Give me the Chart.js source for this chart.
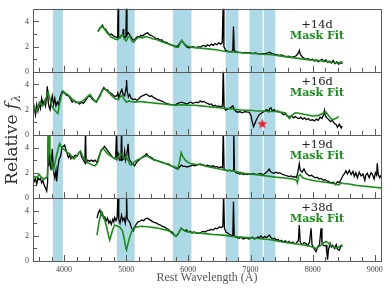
<!DOCTYPE html>
<html>
<head>
<meta charset="utf-8">
<script src="https://cdn.jsdelivr.net/npm/chart.js@4.4.1/dist/chart.umd.min.js"></script>
<style>
body { margin: 0; background: #fff; }
#wrap { position: relative; width: 391px; height: 292px; }
</style>
</head>
<body>
<div id="wrap"><canvas id="spectra" width="391" height="292"></canvas></div>
<script>
var waveMin = 3500;
var waveMax = 9100;
var fluxMax = 5;

// axis labels
var waveLabels = [4000, 5000, 6000, 7000, 8000, 9000];
var fluxLabels = [0, 2, 4];

// masked regions (Angstrom)
var bandStarts = [3820, 4850, 5750, 6600, 6985, 7215];
var bandEnds   = [3980, 5135, 6050, 6805, 7195, 7400];

var epochs = ['+14d', '+16d', '+19d', '+38d'];
var fitLabel = 'Mask Fit';

// [wavelength, relative flux]
var obs14 = [[4550,3.2],[4575,3.45],[4600,3.55],[4620,3.7],[4640,3.45],[4665,3.4],[4690,3.2],[4715,3.05],[4740,2.95],[4765,3.0],[4790,2.85],[4815,2.8],[4840,2.75],[4862,2.7],[4870,5.5],[4878,2.75],[4900,2.7],[4925,2.9],[4945,3.0],[4952,3.4],[4960,2.9],[4980,2.7],[4995,2.8],[5004,5.5],[5012,2.9],[5035,3.1],[5060,2.9],[5085,2.7],[5110,2.55],[5135,2.5],[5160,2.7],[5185,2.8],[5210,2.75],[5235,2.9],[5260,2.85],[5290,2.95],[5320,3.05],[5345,3.1],[5370,2.95],[5400,2.9],[5430,2.8],[5455,2.75],[5480,2.6],[5510,2.65],[5540,2.5],[5570,2.55],[5600,2.4],[5630,2.35],[5660,2.3],[5690,2.2],[5720,2.15],[5750,2.1],[5780,2.05],[5810,2.0],[5840,2.1],[5870,2.35],[5890,2.45],[5920,2.3],[5950,2.1],[5980,1.95],[6010,1.9],[6040,1.95],[6070,2.0],[6100,1.95],[6130,1.9],[6160,2.0],[6190,1.95],[6220,2.05],[6250,2.1],[6280,2.0],[6310,2.15],[6340,2.05],[6370,2.2],[6400,2.1],[6430,2.25],[6460,2.15],[6490,2.3],[6520,2.2],[6545,2.3],[6560,5.5],[6572,2.0],[6600,1.7],[6630,1.65],[6660,1.6],[6690,1.6],[6715,1.7],[6726,3.6],[6738,1.7],[6760,1.6],[6800,1.55],[6840,1.55],[6880,1.5],[6920,1.55],[6960,1.5],[7000,1.5],[7040,1.45],[7080,1.5],[7120,1.45],[7160,1.4],[7200,1.45],[7240,1.45],[7280,1.5],[7310,1.55],[7340,1.45],[7380,1.4],[7420,1.35],[7460,1.3],[7500,1.35],[7540,1.25],[7580,1.2],[7620,1.25],[7660,1.15],[7700,1.2],[7740,1.3],[7770,1.5],[7786,1.7],[7800,1.4],[7830,1.2],[7860,1.1],[7900,1.0],[7930,1.05],[7960,0.95],[8000,1.0],[8030,0.85],[8060,0.95],[8090,0.8],[8120,0.9],[8150,1.0],[8180,0.8],[8210,0.95],[8240,0.75],[8270,0.85],[8300,0.7],[8330,0.9],[8360,0.65],[8390,0.8],[8420,0.6],[8450,0.75],[8480,0.65]];
var fit14 = [[4540,3.2],[4580,3.5],[4610,3.65],[4640,3.45],[4700,3.05],[4760,2.75],[4820,2.6],[4860,2.55],[4900,2.75],[4940,2.95],[4970,2.6],[5000,2.45],[5030,2.75],[5060,2.8],[5090,2.45],[5120,2.35],[5150,2.55],[5200,2.75],[5260,2.7],[5320,2.8],[5380,2.7],[5440,2.6],[5500,2.55],[5560,2.4],[5620,2.3],[5680,2.2],[5740,2.1],[5800,1.95],[5840,1.95],[5870,2.3],[5895,2.5],[5930,2.25],[5980,2.05],[6050,1.95],[6150,1.9],[6250,1.85],[6350,1.8],[6450,1.75],[6550,1.65],[6650,1.6],[6750,1.55],[6900,1.5],[7050,1.45],[7200,1.4],[7350,1.35],[7500,1.25],[7650,1.15],[7800,1.05],[7950,0.95],[8100,0.9],[8250,0.8],[8400,0.7],[8450,0.75],[8480,0.82]];

var obs16 = [[3500,1.7],[3520,2.2],[3540,1.6],[3560,2.4],[3580,1.9],[3600,2.5],[3620,2.1],[3640,2.9],[3660,2.4],[3680,2.7],[3700,2.3],[3720,3.0],[3730,3.85],[3745,2.6],[3760,2.2],[3775,2.0],[3790,2.6],[3810,3.1],[3830,2.4],[3850,2.9],[3870,2.3],[3890,2.6],[3910,2.4],[3930,2.9],[3950,3.2],[3970,3.45],[3990,3.35],[4010,3.3],[4040,3.15],[4070,3.1],[4100,2.9],[4130,2.6],[4160,2.75],[4190,2.55],[4220,2.6],[4250,2.45],[4280,2.6],[4310,2.5],[4340,2.7],[4370,2.9],[4400,3.1],[4430,3.0],[4460,2.8],[4490,2.7],[4520,2.6],[4550,2.9],[4580,3.2],[4610,3.5],[4640,3.75],[4670,3.6],[4700,3.55],[4730,3.35],[4760,3.3],[4790,3.15],[4820,3.05],[4850,3.1],[4865,3.3],[4880,2.9],[4910,3.4],[4930,3.6],[4950,3.2],[4975,3.1],[5000,3.8],[5005,4.35],[5015,3.5],[5035,3.0],[5055,3.2],[5080,2.9],[5110,2.8],[5140,2.85],[5170,2.75],[5200,2.85],[5230,3.0],[5260,3.1],[5290,3.15],[5320,3.25],[5350,3.15],[5380,3.05],[5410,3.1],[5440,2.95],[5470,2.9],[5500,2.8],[5530,2.75],[5560,2.7],[5590,2.65],[5620,2.55],[5650,2.5],[5680,2.45],[5710,2.4],[5740,2.4],[5770,2.35],[5800,2.4],[5830,2.5],[5860,2.55],[5890,2.6],[5920,2.55],[5950,2.5],[5980,2.45],[6010,2.55],[6040,2.6],[6070,2.5],[6100,2.55],[6130,2.6],[6160,2.55],[6190,2.7],[6220,2.6],[6250,2.65],[6280,2.55],[6310,2.5],[6340,2.4],[6370,2.45],[6400,2.3],[6430,2.35],[6460,2.25],[6490,2.3],[6520,2.2],[6550,2.3],[6562,5.5],[6575,2.2],[6600,1.95],[6630,2.05],[6660,2.1],[6690,2.2],[6715,2.3],[6740,2.0],[6770,1.85],[6800,1.8],[6830,1.85],[6860,1.75],[6890,1.8],[6920,1.85],[6950,1.8],[6980,1.8],[7010,1.5],[7030,1.0],[7050,0.65],[7070,0.9],[7090,1.15],[7115,1.4],[7140,1.6],[7170,1.7],[7200,1.8],[7230,1.9],[7260,2.0],[7290,1.85],[7310,2.1],[7330,2.15],[7350,1.9],[7380,2.0],[7410,1.85],[7440,1.9],[7470,1.8],[7500,1.75],[7530,1.6],[7560,1.65],[7590,1.5],[7625,1.45],[7660,1.5],[7690,1.35],[7720,1.45],[7750,1.35],[7785,1.3],[7810,1.4],[7840,1.25],[7870,1.35],[7900,1.2],[7930,1.3],[7960,1.15],[8000,1.2],[8030,1.1],[8060,1.25],[8090,1.15],[8120,1.4],[8150,1.3],[8175,1.6],[8190,1.95],[8205,1.5],[8230,1.35],[8260,1.2],[8290,1.05],[8320,1.15],[8350,0.9],[8380,0.8],[8400,0.6],[8430,0.85],[8460,0.55],[8475,0.7]];
var fit16 = [[3500,2.0],[3530,2.2],[3560,1.9],[3590,2.3],[3620,2.6],[3650,2.3],[3680,2.5],[3710,2.9],[3745,3.4],[3770,2.9],[3800,2.3],[3840,2.0],[3880,1.8],[3900,1.7],[3925,2.4],[3960,3.2],[3990,3.45],[4020,3.3],[4060,3.2],[4100,3.0],[4140,2.8],[4180,2.65],[4220,2.55],[4260,2.6],[4300,2.7],[4350,2.9],[4400,3.15],[4420,3.2],[4460,2.9],[4500,2.65],[4540,2.75],[4580,3.1],[4620,3.55],[4650,3.65],[4690,3.5],[4740,3.25],[4790,3.0],[4830,2.85],[4870,2.8],[4900,3.0],[4930,3.1],[4960,2.9],[5000,2.6],[5040,2.7],[5080,2.65],[5140,2.6],[5200,2.65],[5300,2.6],[5400,2.55],[5500,2.5],[5600,2.45],[5700,2.4],[5800,2.35],[5900,2.4],[6000,2.35],[6100,2.35],[6200,2.3],[6300,2.25],[6400,2.2],[6500,2.15],[6600,2.1],[6700,2.05],[6800,2.0],[6900,1.95],[7000,1.95],[7100,1.9],[7200,1.9],[7300,1.85],[7400,1.85],[7500,1.8],[7560,1.75],[7600,1.45],[7625,1.3],[7660,1.5],[7700,1.7],[7730,1.75],[7800,1.7],[7900,1.6],[8000,1.5],[8100,1.55],[8180,1.75],[8215,1.8],[8260,1.5],[8315,1.2],[8370,1.3],[8420,1.45]];

var obs19 = [[3500,1.75],[3520,1.3],[3540,1.5],[3560,1.1],[3580,1.6],[3600,1.45],[3620,1.55],[3640,1.2],[3660,1.4],[3680,1.0],[3700,0.8],[3720,0.55],[3735,1.2],[3745,5.5],[3755,2.5],[3770,3.2],[3790,2.2],[3810,3.9],[3830,2.1],[3850,1.6],[3870,2.2],[3880,1.3],[3900,2.4],[3920,3.1],[3945,3.3],[3965,4.0],[3990,4.1],[4010,4.2],[4030,3.8],[4050,3.5],[4070,3.2],[4090,3.4],[4110,3.1],[4130,3.3],[4150,3.2],[4180,3.4],[4210,3.3],[4240,3.6],[4260,3.7],[4280,3.3],[4310,3.0],[4335,2.8],[4345,5.5],[4355,2.8],[4380,3.0],[4410,2.9],[4440,3.0],[4470,2.9],[4500,3.0],[4530,2.8],[4560,3.3],[4590,3.7],[4620,3.9],[4650,4.1],[4680,3.9],[4710,3.7],[4740,3.5],[4770,3.3],[4800,3.15],[4830,3.1],[4845,5.5],[4855,3.2],[4870,3.5],[4890,3.0],[4915,3.0],[4925,5.5],[4935,3.0],[4960,3.1],[4975,3.7],[4990,3.0],[5010,3.4],[5030,4.3],[5045,3.1],[5070,2.9],[5100,2.7],[5135,2.55],[5165,2.8],[5190,2.95],[5215,3.05],[5250,3.2],[5280,3.3],[5310,3.4],[5330,3.5],[5350,3.35],[5380,3.25],[5410,3.2],[5440,3.05],[5470,3.0],[5500,2.95],[5530,2.9],[5560,2.85],[5590,2.8],[5620,2.75],[5650,2.7],[5680,2.7],[5710,2.6],[5740,2.5],[5770,2.45],[5800,2.35],[5830,2.3],[5860,2.45],[5890,2.6],[5920,2.5],[5950,2.5],[5980,2.45],[6010,2.5],[6040,2.55],[6070,2.6],[6100,2.55],[6130,2.6],[6160,2.65],[6190,2.7],[6220,2.65],[6250,2.6],[6280,2.55],[6310,2.6],[6340,2.55],[6370,2.5],[6400,2.55],[6430,2.45],[6460,2.5],[6490,2.4],[6520,2.45],[6550,2.4],[6562,5.5],[6575,2.3],[6600,2.2],[6630,2.15],[6660,2.2],[6690,2.15],[6720,2.2],[6730,5.5],[6742,2.1],[6770,2.0],[6800,1.95],[6830,1.9],[6860,1.95],[6890,1.85],[6920,1.9],[6950,1.85],[6980,1.9],[7010,1.85],[7040,1.95],[7070,1.9],[7100,1.85],[7130,1.9],[7160,1.95],[7190,1.85],[7220,1.9],[7250,2.0],[7280,2.15],[7300,2.3],[7320,2.1],[7350,2.0],[7380,1.95],[7410,2.05],[7440,1.95],[7470,2.0],[7500,1.9],[7530,1.85],[7560,1.8],[7590,1.75],[7620,1.7],[7650,1.75],[7680,1.65],[7710,1.7],[7740,1.6],[7760,2.0],[7785,2.7],[7800,2.2],[7830,2.05],[7860,2.3],[7890,2.0],[7920,1.85],[7945,1.75],[7980,1.8],[8010,1.7],[8040,1.6],[8070,1.65],[8105,1.5],[8140,1.55],[8170,1.4],[8200,1.45],[8230,1.35],[8260,1.3],[8295,1.2],[8330,1.25],[8360,1.15],[8375,1.1],[8400,1.3],[8430,1.2],[8460,1.5],[8490,1.8],[8515,1.95],[8535,2.15],[8560,1.9],[8590,2.2],[8620,1.85],[8650,2.1],[8670,1.7],[8695,2.0],[8720,1.6],[8750,2.05],[8780,1.75],[8810,1.9],[8840,1.4],[8855,1.8],[8880,1.95],[8910,1.6],[8940,2.0],[8960,1.9],[8990,1.5],[9010,2.0],[9030,1.8],[9040,2.75],[9055,1.9],[9080,1.6],[9100,1.8]];
var fit19 = [[3500,1.5],[3530,1.7],[3560,1.6],[3600,1.85],[3640,1.6],[3680,1.5],[3710,1.6],[3730,1.7],[3745,3.5],[3758,5.5],[3772,3.5],[3790,2.9],[3815,2.4],[3830,2.2],[3850,2.7],[3880,3.4],[3910,4.0],[3930,4.3],[3950,4.1],[3980,3.9],[4010,3.8],[4050,3.6],[4095,3.5],[4130,3.2],[4160,3.1],[4200,3.3],[4240,3.6],[4265,3.7],[4300,3.3],[4340,3.0],[4380,2.8],[4420,2.7],[4460,2.6],[4500,2.55],[4540,2.8],[4570,3.3],[4600,3.85],[4630,3.9],[4660,3.75],[4700,3.5],[4760,3.3],[4820,3.1],[4860,3.2],[4900,3.5],[4940,3.4],[4970,3.1],[5000,3.3],[5030,3.0],[5055,2.7],[5080,2.6],[5120,2.8],[5170,3.0],[5220,3.1],[5280,3.25],[5330,3.35],[5380,3.2],[5450,3.0],[5500,2.95],[5560,2.85],[5620,2.75],[5700,2.6],[5780,2.45],[5830,2.35],[5860,2.9],[5885,3.6],[5910,3.3],[5950,3.0],[6000,2.8],[6060,2.7],[6120,2.65],[6180,2.65],[6300,2.5],[6400,2.4],[6500,2.3],[6600,2.2],[6715,2.15],[6800,2.05],[6900,1.95],[7000,1.9],[7100,1.85],[7250,1.75],[7400,1.65],[7550,1.58],[7680,1.5],[7740,1.4],[7755,1.2],[7775,1.75],[7800,1.85],[7840,1.6],[7900,1.5],[8050,1.35],[8200,1.25],[8330,1.15],[8400,1.05],[8425,1.05],[8460,1.2],[8500,1.15],[8590,1.1],[8700,1.0],[8800,0.95],[8900,0.9],[9000,0.85],[9100,0.8]];

var obs38 = [[4530,3.4],[4550,3.8],[4575,4.05],[4595,3.6],[4615,3.8],[4635,3.4],[4655,3.5],[4680,3.2],[4700,3.4],[4720,3.0],[4740,3.2],[4760,2.9],[4785,3.3],[4800,3.1],[4815,3.45],[4835,3.2],[4855,3.5],[4868,5.5],[4880,3.3],[4900,3.0],[4925,3.65],[4945,3.2],[4965,3.4],[4985,3.0],[5000,3.6],[5005,5.5],[5015,3.4],[5035,3.2],[5055,3.1],[5080,2.7],[5100,2.5],[5115,2.4],[5135,2.7],[5160,2.9],[5190,3.1],[5220,3.15],[5250,3.25],[5280,3.2],[5310,3.35],[5340,3.4],[5370,3.3],[5400,3.2],[5430,3.1],[5460,3.05],[5490,3.0],[5520,2.9],[5550,2.85],[5580,2.75],[5610,2.7],[5645,2.6],[5680,2.5],[5710,2.35],[5740,2.3],[5770,2.1],[5800,1.95],[5830,2.1],[5860,2.4],[5885,2.6],[5910,2.5],[5940,2.4],[5970,2.45],[6000,2.3],[6030,2.35],[6060,2.2],[6090,2.3],[6120,2.25],[6150,2.2],[6180,2.2],[6210,2.3],[6240,2.35],[6270,2.3],[6300,2.4],[6340,2.45],[6370,2.5],[6400,2.45],[6430,2.6],[6460,2.55],[6500,2.7],[6530,2.65],[6555,2.75],[6568,5.5],[6580,2.6],[6605,2.3],[6635,2.2],[6660,2.1],[6690,2.05],[6715,2.0],[6726,4.7],[6738,2.0],[6760,1.9],[6790,1.85],[6820,1.8],[6850,1.9],[6880,1.75],[6910,1.8],[6940,1.85],[6970,1.75],[7000,1.8],[7030,1.9],[7060,1.75],[7090,1.8],[7120,1.9],[7145,1.85],[7170,2.0],[7200,1.8],[7230,1.95],[7260,1.85],[7290,2.0],[7305,2.05],[7330,1.85],[7360,1.75],[7390,1.8],[7420,1.65],[7450,1.7],[7465,1.55],[7500,1.65],[7530,1.5],[7560,1.6],[7590,1.45],[7620,1.55],[7650,1.4],[7680,1.5],[7710,1.35],[7740,1.45],[7770,1.6],[7785,2.85],[7800,1.5],[7830,1.3],[7860,1.45],[7890,1.4],[7920,1.2],[7950,1.5],[7975,2.6],[7990,1.3],[8020,1.0],[8055,0.75],[8080,1.1],[8110,1.3],[8135,2.6],[8150,1.4],[8180,1.2],[8215,1.25],[8230,0.6],[8240,0.1],[8255,0.9],[8280,1.4],[8300,1.1],[8320,1.25],[8350,1.0],[8380,1.3],[8400,0.95],[8430,0.85],[8455,1.2],[8480,1.15]];
var fit38 = [[4530,2.05],[4560,3.0],[4600,3.9],[4630,3.6],[4655,3.25],[4690,2.6],[4720,1.9],[4735,1.65],[4760,2.1],[4790,2.6],[4815,2.85],[4860,2.75],[4895,2.7],[4940,2.4],[4970,1.7],[4995,1.0],[5005,0.87],[5020,1.2],[5050,1.8],[5085,2.3],[5120,2.6],[5165,2.7],[5250,2.75],[5380,2.7],[5450,2.65],[5520,2.6],[5600,2.5],[5645,2.45],[5700,2.35],[5760,2.1],[5805,1.95],[5840,2.2],[5885,2.6],[5920,2.45],[5960,2.35],[6020,2.3],[6100,2.25],[6200,2.2],[6300,2.15],[6400,2.1],[6555,2.05],[6700,1.95],[6820,1.9],[6950,1.85],[7090,1.8],[7200,1.75],[7300,1.7],[7465,1.55],[7600,1.45],[7750,1.35],[7890,1.25],[7970,1.15],[8055,1.0],[8120,1.2],[8180,1.45],[8215,1.55],[8260,1.4],[8300,1.2],[8375,1.0],[8420,1.1],[8480,1.3]];

// red star in the +16d panel
var starPoint = [[7190, 0.88]];

var obsSets = [obs14, obs16, obs19, obs38];
var fitSets = [fit14, fit16, fit19, fit38];
var axisIds = ['y14', 'y16', 'y19', 'y38'];

var bandColor = '#add8e6';
var fitColor = '#1c8c1c';
var frameColor = '#5a5a5a';
var textColor = '#444';
var labelDrop = [16, 10, 10, 10];
var labelWave = 8070;

function toPoints(arr) {
    return arr.map(function(p) { return {x: p[0], y: p[1]}; });
}

function makeStar() {
    var c = document.createElement('canvas');
    c.width = 11; c.height = 11;
    var g = c.getContext('2d');
    g.fillStyle = '#ee1c24';
    g.beginPath();
    for (var i = 0; i < 10; i++) {
        var r = i % 2 === 0 ? 5.3 : 2.2;
        var a = -Math.PI / 2 + i * Math.PI / 5;
        g.lineTo(5.5 + r * Math.cos(a), 5.8 + r * Math.sin(a));
    }
    g.closePath();
    g.fill();
    return c;
}

function plainLabel(v) {
    return String(v);
}

function yAxis() {
    return {
        type: 'linear',
        position: 'left',
        stack: 'panels',
        stackWeight: 1,
        min: 0,
        max: fluxMax,
        grid: {display: false, drawTicks: false},
        border: {display: false},
        afterBuildTicks: function(s) {
            s.ticks = fluxLabels.map(function(v) { return {value: v}; });
        },
        ticks: {
            padding: 4,
            color: textColor,
            font: {family: 'Liberation Serif', size: 8},
            callback: plainLabel
        },
        afterFit: function(s) { s.width = 33; }
    };
}

var panelPlugin = {
    id: 'panels',
    beforeDatasetsDraw: function(chart) {
        var ctx = chart.ctx, area = chart.chartArea, x = chart.scales.x;
        ctx.save();
        ctx.fillStyle = bandColor;
        for (var i = 0; i < bandStarts.length; i++) {
            var a = x.getPixelForValue(bandStarts[i]);
            var b = x.getPixelForValue(bandEnds[i]);
            ctx.fillRect(a, area.top, b - a, area.bottom - area.top);
        }
        ctx.restore();
    },
    afterDatasetsDraw: function(chart) {
        var ctx = chart.ctx, area = chart.chartArea, x = chart.scales.x;
        ctx.save();
        ctx.strokeStyle = frameColor;
        ctx.lineWidth = 1;
        axisIds.forEach(function(id, k) {
            var s = chart.scales[id];
            ctx.strokeRect(Math.round(area.left) + 0.5, Math.round(s.top) + 0.5,
                Math.round(area.right - area.left), Math.round(s.bottom - s.top));
            ctx.beginPath();
            for (var v = 3600; v <= 9000; v += 200) {
                var px = Math.round(x.getPixelForValue(v)) + 0.5;
                var len = v % 1000 === 0 ? 6 : 4;
                ctx.moveTo(px, s.bottom);
                ctx.lineTo(px, s.bottom - len);
            }
            for (var f = 1; f < fluxMax; f++) {
                var py = Math.round(s.getPixelForValue(f)) + 0.5;
                var l = f % 2 === 0 ? 6 : 4;
                ctx.moveTo(area.left, py);
                ctx.lineTo(area.left + l, py);
            }
            ctx.stroke();

            var cx = x.getPixelForValue(labelWave);
            ctx.textAlign = 'center';
            ctx.textBaseline = 'middle';
            ctx.fillStyle = '#222';
            ctx.font = '11.5px "DejaVu Serif"';
            ctx.fillText(epochs[k], cx, s.top + labelDrop[k]);
            ctx.fillStyle = fitColor;
            ctx.font = 'bold 11px "DejaVu Serif"';
            ctx.fillText(fitLabel, cx, s.top + labelDrop[k] + 11);
        });

        // y title: Relative f_lambda
        var midY = (area.top + area.bottom) / 2 + 5;
        ctx.translate(13, midY);
        ctx.rotate(-Math.PI / 2);
        ctx.fillStyle = '#333';
        ctx.textAlign = 'left';
        ctx.textBaseline = 'middle';
        var p1 = 'Relative ', p2 = 'f', p3 = '\u03bb';
        ctx.font = '17px "DejaVu Serif"';
        var w1 = ctx.measureText(p1).width;
        ctx.font = 'italic 17px "DejaVu Serif"';
        var w2 = ctx.measureText(p2).width;
        ctx.font = 'italic 11px "DejaVu Serif"';
        var w3 = ctx.measureText(p3).width;
        var start = -(w1 + w2 + w3 + 1) / 2;
        ctx.font = '17px "DejaVu Serif"';
        ctx.fillText(p1, start, 0);
        ctx.font = 'italic 17px "DejaVu Serif"';
        ctx.fillText(p2, start + w1, 0);
        ctx.font = 'italic 11px "DejaVu Serif"';
        ctx.fillText(p3, start + w1 + w2 + 1, 4);
        ctx.restore();
    }
};

var datasets = [];
for (var i = 0; i < 4; i++) {
    datasets.push({
        data: toPoints(fitSets[i]),
        yAxisID: axisIds[i],
        borderColor: fitColor,
        borderWidth: 1.6,
        pointRadius: 0,
        order: 0
    });
    datasets.push({
        data: toPoints(obsSets[i]),
        yAxisID: axisIds[i],
        borderColor: '#000',
        borderWidth: 1.3,
        pointRadius: 0,
        order: 1
    });
}
datasets.push({
    data: toPoints(starPoint),
    yAxisID: 'y16',
    showLine: false,
    pointStyle: makeStar(),
    pointRadius: 5,
    order: -1
});

var scales = {
    x: {
        type: 'linear',
        position: 'bottom',
        min: waveMin,
        max: waveMax,
        grid: {display: false, drawTicks: false},
        border: {display: false},
        afterBuildTicks: function(s) {
            s.ticks = waveLabels.map(function(v) { return {value: v}; });
        },
        ticks: {
            autoSkip: false,
            maxRotation: 0,
            padding: 4,
            color: textColor,
            font: {family: 'Liberation Serif', size: 8},
            callback: plainLabel
        },
        title: {
            display: true,
            text: 'Rest Wavelength (\u00c5)',
            color: '#555',
            font: {family: 'Liberation Serif', size: 12},
            padding: {top: 0, bottom: 7}
        },
        afterFit: function(s) { s.height = 31; }
    }
};
// stacked left axes are laid out last-defined on top
for (var k = axisIds.length - 1; k >= 0; k--) {
    scales[axisIds[k]] = yAxis();
}

var ctx = document.getElementById('spectra');
window.myChart = new Chart(ctx, {
    type: 'line',
    data: {datasets: datasets},
    options: {
        responsive: false,
        animation: false,
        devicePixelRatio: 1,
        layout: {padding: {top: 7, right: 10, left: 0, bottom: 0}},
        elements: {line: {tension: 0}},
        plugins: {legend: {display: false}, tooltip: {enabled: false}},
        scales: scales
    },
    plugins: [panelPlugin]
});
</script>
</body>
</html>
